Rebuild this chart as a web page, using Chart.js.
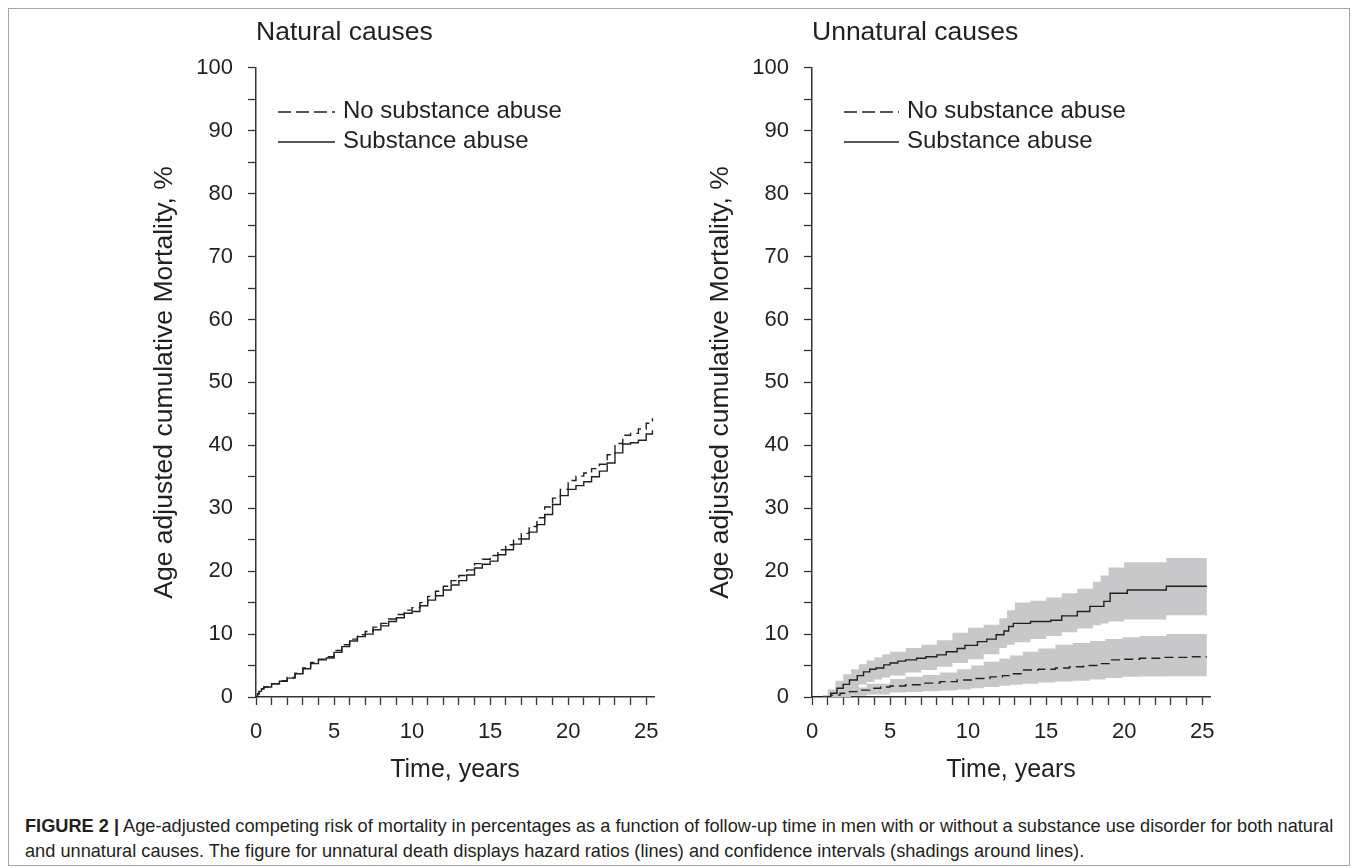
<!DOCTYPE html>
<html>
<head>
<meta charset="utf-8">
<script src="https://cdn.jsdelivr.net/npm/chart.js@4.4.1/dist/chart.umd.min.js"></script>
<style>
  body { margin: 0; background: #fff; font-family: 'Liberation Sans', Arial, sans-serif; }
  #frame { position: absolute; left: 8px; top: 8px; width: 1342px; height: 858px; box-sizing: border-box; border: 1px solid #a6a6a6; }
  canvas { position: absolute; top: 0; }
  .legend { position: absolute; font-size: 24px; color: #231f20; line-height: 30px; }
  .legend div { height: 30px; white-space: nowrap; }
  .legend svg { vertical-align: middle; margin-right: 8px; }
  #caption { position: absolute; left: 25px; top: 814px; font-size: 18.2px; line-height: 25px; color: #231f20; white-space: nowrap; }
</style>
</head>
<body>
<div id="frame"></div>
<canvas id="natural" width="574" height="785" style="left:100px"></canvas>
<canvas id="unnatural" width="574" height="785" style="left:656px"></canvas>

<div class="legend" style="left:278px; top:95px">
  <div><svg width="57" height="4"><line x1="0" y1="2" x2="57" y2="2" stroke="#231f20" stroke-width="1.3" stroke-dasharray="13 5"/></svg>No substance abuse</div>
  <div><svg width="57" height="4"><line x1="0" y1="2" x2="57" y2="2" stroke="#231f20" stroke-width="1.3"/></svg>Substance abuse</div>
</div>
<div class="legend" style="left:844px; top:95px">
  <div><svg width="55" height="4"><line x1="0" y1="2" x2="55" y2="2" stroke="#231f20" stroke-width="1.3" stroke-dasharray="13 5"/></svg>No substance abuse</div>
  <div><svg width="55" height="4"><line x1="0" y1="2" x2="55" y2="2" stroke="#231f20" stroke-width="1.3"/></svg>Substance abuse</div>
</div>

<div id="caption"><b>FIGURE 2 |</b> Age-adjusted competing risk of mortality in percentages as a function of follow-up time in men with or without a substance use disorder for both natural<br>and unnatural causes. The figure for unnatural death displays hazard ratios (lines) and confidence intervals (shadings around lines).</div>

<script>
// Natural causes (years, %)
let natTime = [0,0.1,0.2,0.35,0.5,1,1.5,2,2.5,3,3.5,4,4.5,5,5.5,6,6.5,7,7.5,8,8.5,9,9.5,10,10.5,11,11.5,12,12.5,13,13.5,14,14.5,15,15.5,16,16.5,17,17.5,18,18.5,19,19.5,20,20.5,21,21.5,22,22.5,23,23.5,24,24.5,25,25.4];
let natSA  = [0,0.5,0.9,1.3,1.6,2.1,2.5,3.0,3.7,4.5,5.3,5.9,6.2,7.1,8.0,8.9,9.6,10.0,10.7,11.3,12.0,12.6,13.3,13.6,14.5,15.4,16.1,17.0,17.8,18.5,19.4,20.5,21.1,21.6,22.6,23.4,24.3,25.1,26.2,27.4,29.0,30.6,32.0,33.0,33.6,34.2,35.0,35.9,37.2,38.8,40.2,40.4,40.8,41.8,42.4];
let natNSA = [0,0.5,0.9,1.3,1.6,2.1,2.6,3.1,3.8,4.6,5.5,6.0,6.4,7.4,8.3,9.2,9.9,10.4,11.1,11.7,12.4,13.1,13.8,14.2,15.0,16.0,16.8,17.6,18.5,19.3,20.2,21.2,21.9,22.5,23.4,24.2,25.1,26.0,27.1,28.5,30.2,31.6,33.0,34.4,35.1,35.6,36.3,37.0,38.5,40.3,41.6,41.9,42.6,43.5,44.3];

// Unnatural causes - lines
let unnatTimeSA = [0,0.9,1.2,1.6,2.0,2.4,2.9,3.3,3.7,4.1,4.6,5.0,5.5,6.0,6.7,7.3,8.0,8.6,9.3,9.8,10.6,11.2,11.8,12.3,12.6,12.9,14.0,15.3,16.0,17.0,17.8,18.7,19.1,20.2,22.7,25.3];
let unnatSA     = [0,0,0.6,1.4,2.0,2.7,3.4,4.0,4.4,4.6,5.1,5.4,5.7,5.9,6.15,6.4,6.7,7.2,7.7,8.2,8.8,9.2,9.9,10.5,11.2,11.7,12.0,12.2,12.9,13.6,14.4,15.2,16.5,17.0,17.6,17.6];
let unnatTimeNSA = [0,0.7,1.2,1.8,2.4,3.0,3.7,4.4,5.0,6.0,7.1,8.2,9.3,10.4,11.4,12.2,12.7,13.5,14.5,15.6,16.5,17.4,18.3,19.1,20.0,21.0,22.5,24.2,25.3];
let unnatNSA     = [0,0,0.3,0.6,0.85,1.1,1.4,1.6,1.75,1.95,2.2,2.45,2.7,2.95,3.2,3.4,3.7,4.3,4.4,4.6,4.8,5.0,5.3,5.9,6.0,6.15,6.3,6.4,6.4];

// Unnatural causes - confidence bands
let saBandT  = [0.7,1.0,1.5,2.0,2.5,3.0,3.5,4.0,4.5,5.0,6.0,7.0,8.0,9.0,10.0,11.0,12.0,12.5,13.0,14.0,15.0,16.0,17.0,18.0,18.5,19.0,20.0,22.7,25.3];
let saUpper  = [0.3,1.2,2.6,3.6,4.4,5.2,5.8,6.3,6.8,7.2,7.8,8.3,9.0,10.2,11.0,11.5,12.5,13.8,15.0,15.3,15.8,16.5,17.2,18.3,19.3,20.6,21.4,22.1,22.1];
let saLower  = [0,0,0.3,0.8,1.3,2.0,2.4,2.8,3.1,3.4,3.9,4.3,4.8,5.4,6.0,6.8,7.8,8.3,8.7,9.2,9.7,10.3,10.9,11.4,11.7,12.0,12.3,13.0,13.0];
let nsaBandT = [0.7,1.5,2.5,3.5,5.0,6.0,7.1,8.2,9.3,10.2,11.0,12.0,12.7,13.5,14.5,15.6,16.7,17.8,18.8,19.9,21.0,22.7,25.3];
let nsaUpper = [0.3,0.8,1.5,2.1,2.85,3.2,3.5,3.9,4.4,5.0,5.6,6.1,6.6,7.2,7.7,8.3,8.6,8.9,9.2,9.5,9.7,10.0,10.0];
let nsaLower = [0,0,0.2,0.4,0.7,0.8,0.9,1.05,1.2,1.4,1.6,1.8,1.95,2.1,2.3,2.45,2.6,2.8,3.0,3.2,3.25,3.3,3.3];

let yTicks = [0,10,20,30,40,50,60,70,80,90,100];
let xTicks = [0,5,10,15,20,25];

Chart.defaults.font.family = "'Liberation Sans', Arial, sans-serif";
Chart.defaults.color = '#231f20';

const ink = '#231f20';
const bandColor = '#c8c8ca';

function pts(xs, ys) {
	return xs.map((x, i) => ({x: x, y: ys[i]}));
}

function lineSet(label, xs, ys, dashed) {
	return {
		label,
		data: pts(xs, ys),
		borderColor: ink,
		borderWidth: 1.4,
		borderDash: dashed ? [9, 5] : [],
		stepped: true,
		pointRadius: 0,
		fill: false,
		order: 0
	}
}

function bandSet(xs, ys, fill) {
	return {
		label: 'band',
		data: pts(xs, ys),
		borderWidth: 0,
		borderColor: 'rgba(0,0,0,0)',
		backgroundColor: bandColor,
		stepped: true,
		pointRadius: 0,
		fill: fill,
		order: 1
	}
}

function makeOptions(titleText) {
	return {
		responsive: false,
		animation: false,
		layout: { padding: {left: 0, right: 20, top: 0, bottom: 0} },
		plugins: {
			legend: { display: false },
			tooltip: { enabled: false },
			title: {
				display: true,
				text: titleText,
				align: 'start',
				fullSize: false,
				color: ink,
				font: { size: 26.5, weight: 'normal' },
				padding: {top: 17, bottom: 19}
			}
		},
		scales: {
			x: {
				type: 'linear',
				min: 0,
				max: 25.5,
				afterFit: s => { s.height = 88; },
				border: { display: true, color: '#333', width: 1.5 },
				grid: { display: true, drawOnChartArea: false, drawTicks: true, tickLength: 8, tickColor: '#333', tickWidth: 1.3 },
				ticks: {
					stepSize: 1,
					includeBounds: false,
					autoSkip: false,
					maxRotation: 0,
					padding: 14,
					color: ink,
					font: { size: 22 },
					callback: v => xTicks.includes(v) ? String(v) : ''
				},
				title: { display: true, text: 'Time, years', color: ink, font: { size: 25 }, padding: {top: 0, bottom: 0} }
			},
			y: {
				min: 0,
				max: 100,
				afterFit: s => { s.width = 156; },
				border: { display: true, color: '#333', width: 1.5 },
				grid: { display: true, drawOnChartArea: false, drawTicks: true, tickLength: 8, tickColor: '#333', tickWidth: 1.3 },
				ticks: {
					stepSize: 5,
					autoSkip: false,
					padding: 15,
					color: ink,
					font: { size: 22 },
					callback: v => yTicks.includes(v) ? String(v) : ''
				},
				title: { display: true, text: 'Age adjusted cumulative Mortality, %', color: ink, font: { size: 26.5 }, padding: {top: 49, bottom: 0} }
			}
		}
	}
}

let chartNat = new Chart(document.getElementById('natural').getContext('2d'), {
	type: 'line',
	data: {
		datasets: [
			lineSet('No substance abuse', natTime, natNSA, true),
			lineSet('Substance abuse', natTime, natSA, false)
		]
	},
	options: makeOptions('Natural causes')
});

let chartUnnat = new Chart(document.getElementById('unnatural').getContext('2d'), {
	type: 'line',
	data: {
		datasets: [
			bandSet(saBandT, saUpper, '+1'),
			bandSet(saBandT, saLower, false),
			bandSet(nsaBandT, nsaUpper, '+1'),
			bandSet(nsaBandT, nsaLower, false),
			lineSet('No substance abuse', unnatTimeNSA, unnatNSA, true),
			lineSet('Substance abuse', unnatTimeSA, unnatSA, false)
		]
	},
	options: makeOptions('Unnatural causes')
});
</script>
</body>
</html>
